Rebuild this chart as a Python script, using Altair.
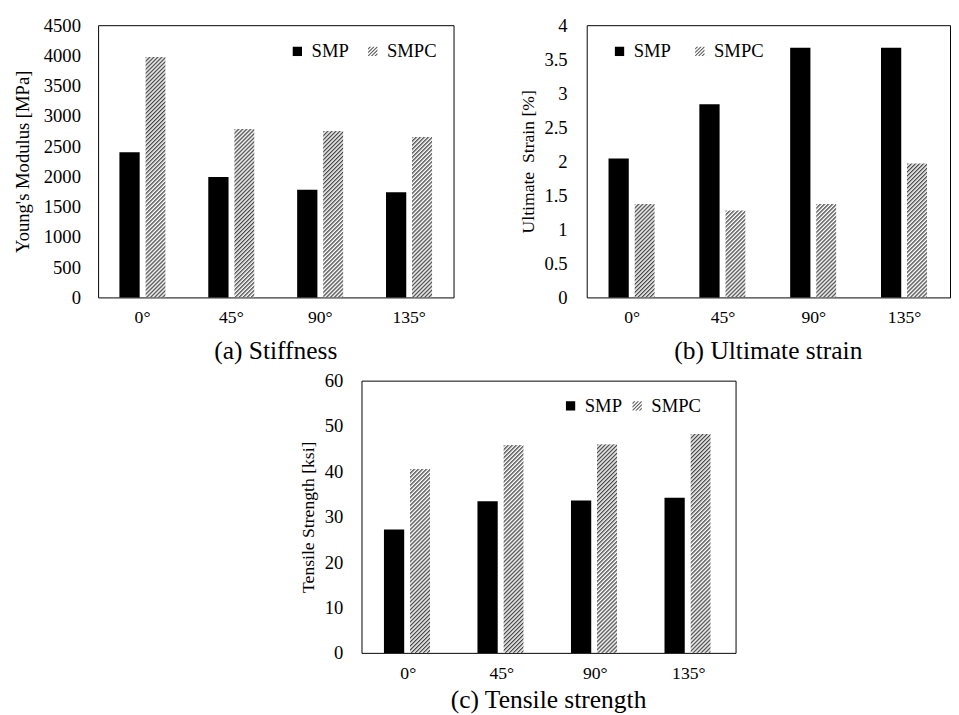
import base64
import altair as alt
import pandas as pd

# ---------------- data ----------------
angles = ["0°", "45°", "90°", "135°"]
series = ["SMP", "SMPC"]

stiff_smp = [2400, 1990, 1780, 1740]
stiff_smpc = [3980, 2790, 2750, 2660]

strain_smp = [2.04, 2.84, 3.67, 3.67]
strain_smpc = [1.38, 1.28, 1.38, 1.97]

tens_smp = [27.2, 33.4, 33.6, 34.2]
tens_smpc = [40.6, 45.8, 46.0, 48.3]

stiff_ticks = [0, 500, 1000, 1500, 2000, 2500, 3000, 3500, 4000, 4500]
strain_ticks = [0, 0.5, 1, 1.5, 2, 2.5, 3, 3.5, 4]
tens_ticks = [0, 10, 20, 30, 40, 50, 60]

FONT = "Liberation Serif"

# hatch fill used for the SMPC bars (an SVG pattern image stretched over each bar)
hatch_svg = (
    '<svg xmlns="http://www.w3.org/2000/svg" width="100%" height="100%">'
    '<defs><pattern id="h" width="2.9" height="2.9" patternUnits="userSpaceOnUse" '
    'patternTransform="rotate(45)">'
    '<rect width="2.9" height="2.9" fill="#ffffff"/>'
    '<line x1="0.7" y1="0" x2="0.7" y2="2.9" stroke="#303030" stroke-width="1.2"/>'
    '</pattern></defs><rect width="100%" height="100%" fill="url(#h)"/></svg>'
)
HATCH = "data:image/svg+xml;base64," + base64.b64encode(hatch_svg.encode()).decode()

SQUARE = "M-1,-1H1V1H-1Z"
HATCH_SYMBOL = (
    "M0.35,1L1,0.35L1,0.65L0.65,1Z"
    "M-0.4,1L1,-0.4L1,-0.1L-0.1,1Z"
    "M-1,0.85L0.85,-1L1,-1L1,-0.85L-0.85,1L-1,1Z"
    "M-1,0.1L0.1,-1L0.4,-1L-1,0.4Z"
    "M-0.35,-1L-1,-0.35L-1,-0.65L-0.65,-1Z"
)


def panel(smp, smpc, ytitle, ticks, yfmt, title, width, height,
          leg_x, leg_y, col_pad, title_offset, lab_pad, title_pad, ytitle_size):
    df = pd.DataFrame({
        "angle": angles * 2,
        "series": ["SMP"] * 4 + ["SMPC"] * 4,
        "value": smp + smpc,
    })
    x = alt.X(
        "angle:N", sort=angles,
        scale=alt.Scale(domain=angles, paddingInner=0.48, paddingOuter=0.24),
        axis=alt.Axis(title=None, ticks=False, domain=False, labelAngle=0,
                      labelPadding=12, labelFontSize=18),
    )
    xo = alt.XOffset("series:N",
                     scale=alt.Scale(domain=series, paddingInner=0.22, paddingOuter=0))
    y = alt.Y(
        "value:Q",
        scale=alt.Scale(domain=[ticks[0], ticks[-1]], nice=False),
        axis=alt.Axis(title=ytitle, values=ticks, format=yfmt, ticks=False, grid=False,
                      domain=False, labelPadding=lab_pad, titlePadding=title_pad,
                      labelFontSize=19, titleFontSize=ytitle_size, titleFontWeight="normal"),
    )
    base = alt.Chart(df).encode(x=x, xOffset=xo, y=y)
    bars = base.transform_filter("datum.series == 'SMP'").mark_bar(color="black")
    hatch = (base.transform_filter("datum.series == 'SMPC'")
             .mark_image(aspect=False)
             .encode(url=alt.value(HATCH)))
    leg = alt.Legend(title=None, orient="none", legendX=leg_x, legendY=leg_y,
                     direction="horizontal", columnPadding=col_pad, labelOffset=5,
                     labelFontSize=19, symbolSize=90, symbolStrokeWidth=0)
    legend_layer = (base.transform_filter("false")
                    .mark_point(filled=True, opacity=1, size=90)
                    .encode(
                        color=alt.Color("series:N",
                                        scale=alt.Scale(domain=series, range=["black", "#555555"]),
                                        legend=leg),
                        shape=alt.Shape("series:N",
                                        scale=alt.Scale(domain=series, range=[SQUARE, HATCH_SYMBOL]),
                                        legend=leg),
                    ))
    return alt.layer(bars, hatch, legend_layer).properties(
        width=width, height=height,
        title=alt.TitleParams(title, orient="bottom", anchor="middle", frame="group",
                              fontSize=26, fontWeight="normal", font=FONT,
                              color="black", offset=title_offset),
    )


a = panel(stiff_smp, stiff_smpc, "Young's Modulus [MPa]", stiff_ticks, "d",
          "(a) Stiffness", 363, 278, 194, 17, 14, 12, 18, 11, 19)
b = panel(strain_smp, strain_smpc, "Ultimate\u00a0 Strain [%]", strain_ticks, "~g",
          "(b) Ultimate strain", 371, 278, 24, 17, 19, 12, 20, 7, 18)
c = panel(tens_smp, tens_smpc, "Tensile Strength [ksi]", tens_ticks, "d",
          "(c) Tensile strength", 382, 278, 204, 16, 5, 5, 19, 7, 18)

spacer = (alt.Chart(pd.DataFrame({"s": []})).mark_point()
          .properties(width=204, height=10, view=alt.ViewConfig(stroke="transparent")))

indep = dict(color="independent", shape="independent")

top = (alt.hconcat(a, b, spacing=65)
       .resolve_scale(**indep).resolve_legend(**indep))
bottom = (alt.hconcat(spacer, c, spacing=0)
          .resolve_scale(**indep).resolve_legend(**indep))

chart = (
    alt.vconcat(top, bottom, spacing=6)
    .resolve_scale(**indep).resolve_legend(**indep)
    .properties(padding={"left": 5, "top": 0, "right": 0, "bottom": 0}, background="white")
    .configure_view(stroke="black", strokeWidth=1)
    .configure_axis(labelFont=FONT, titleFont=FONT, labelColor="black", titleColor="black")
    .configure_legend(labelFont=FONT, labelColor="black")
)

chart.save("out.html", embed_options={"renderer": "svg", "actions": False})
